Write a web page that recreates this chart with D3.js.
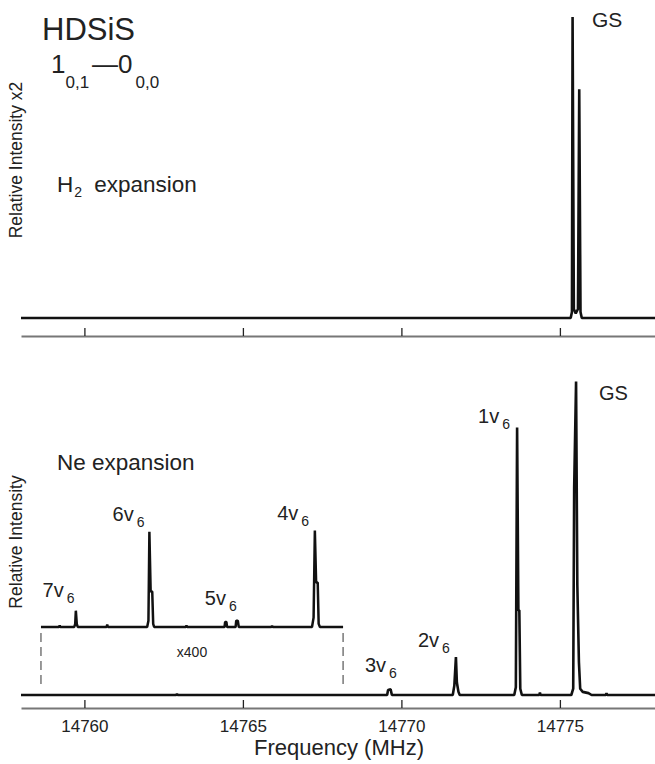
<!DOCTYPE html>
<html>
<head>
<meta charset="utf-8">
<script src="https://cdn.jsdelivr.net/npm/d3@7/dist/d3.min.js"></script>
<style>
 body{margin:0;background:#fff}
 svg{display:block}
 text{font-family:"Liberation Sans",Arial,Helvetica,sans-serif;fill:#222}
</style>
</head>
<body>
<svg></svg>
<script>
 // frequency axis
 let x_domain = [14758, 14778]
 let tick_values = [14760, 14765, 14770, 14775]

 // H2 expansion trace, [MHz, relative intensity]
 let h2_trace = [
      [14758.0, 0], [14775.34, 0], [14775.38, 0.02], [14775.40, 1.0], [14775.44, 0.03],
      [14775.50, 0.015], [14775.57, 0.03], [14775.61, 0.76], [14775.65, 0.02], [14775.69, 0],
      [14778.0, 0]
 ]

 // Ne expansion trace, [MHz, relative intensity]
 let ne_trace = [
      [14758.0, 0], [14762.9, 0], [14762.92, 0.004], [14762.94, 0],
      [14769.55, 0], [14769.58, 0.016], [14769.66, 0.018], [14769.70, 0],
      [14771.62, 0], [14771.67, 0.03], [14771.72, 0.121], [14771.75, 0.04], [14771.80, 0.01], [14771.84, 0],
      [14773.56, 0], [14773.61, 0.025], [14773.65, 0.853], [14773.69, 0.27], [14773.72, 0.27], [14773.75, 0.02], [14773.80, 0],
      [14774.35, 0], [14774.37, 0.008], [14774.39, 0],
      [14775.36, 0], [14775.42, 0.02], [14775.45, 0.661], [14775.51, 1.0], [14775.55, 0.35],
      [14775.60, 0.105], [14775.64, 0.02], [14775.72, 0.01], [14775.90, 0.006], [14776.0, 0],
      [14776.45, 0], [14776.47, 0.006], [14776.49, 0], [14778.0, 0]
 ]

 // x400 inset trace, [MHz, relative intensity x400]
 let inset_trace = [
      [14758.63, 0], [14759.2, 0], [14759.22, 0.005], [14759.24, 0],
      [14759.68, 0], [14759.71, 0.01], [14759.73, 0.052], [14759.76, 0.01], [14759.79, 0],
      [14760.70, 0], [14760.72, 0.008], [14760.74, 0],
      [14761.98, 0], [14762.02, 0.02], [14762.05, 0.304], [14762.09, 0.113], [14762.14, 0.113], [14762.17, 0.01], [14762.20, 0],
      [14763.20, 0], [14763.22, 0.005], [14763.24, 0],
      [14764.42, 0], [14764.44, 0.016], [14764.48, 0.016], [14764.50, 0],
      [14764.77, 0], [14764.79, 0.02], [14764.84, 0.02], [14764.87, 0],
      [14765.9, 0], [14765.92, 0.004], [14765.94, 0],
      [14767.18, 0], [14767.23, 0.03], [14767.27, 0.308], [14767.31, 0.142], [14767.36, 0.142], [14767.39, 0.01], [14767.43, 0],
      [14768.16, 0]
 ]
 let inset_bounds = [14758.63, 14768.16]

 // peak labels: [number, MHz, intensity] at the text's left baseline
 let ne_labels = [["GS", 14776.23, 0.941], ["1", 14772.42, 0.868], ["2", 14770.52, 0.153], ["3", 14768.85, 0.073]]
 let inset_labels = [["7", 14758.68, 0.096], ["6", 14760.89, 0.338], ["5", 14763.80, 0.070], ["4", 14766.08, 0.341]]
 let h2_labels = [["GS", 14776.01, 0.967]]

 width = 655
 height = 764

 var svg = d3.select("svg").attr("width", width).attr("height", height)

 var x = d3.scaleLinear().domain(x_domain).range([21, 655])
 var y_top = d3.scaleLinear().domain([0, 1]).range([318, 17])
 var y_bot = d3.scaleLinear().domain([0, 1]).range([695, 381.5])
 var y_ins = d3.scaleLinear().domain([0, 1]).range([627, 313.5])

 function trace(data, y){
      return d3.line().x(function(d){ return x(d[0]) }).y(function(d){ return y(d[1]) })(data)
 }

 function draw_axis(ypos, labels){
      var ax = d3.axisBottom(x).tickValues(tick_values).tickSize(-8).tickSizeOuter(0).tickPadding(12)
           .tickFormat(labels ? d3.format("d") : "")
      var g = svg.append("g").attr("transform", "translate(0," + ypos + ")").call(ax)
      g.select(".domain").attr("stroke", "#777").attr("stroke-width", 2)
      g.selectAll(".tick line").attr("stroke", "#222").attr("stroke-width", 1.3)
      g.selectAll(".tick text").attr("font-size", 17).attr("font-family", null).attr("fill", "#222")
 }

 function peak_label(lab, y, size){
      var t = svg.append("text").attr("x", x(lab[1])).attr("y", y(lab[2])).attr("font-size", size)
      if(lab[0] == "GS"){ t.text("GS"); return }
      t.append("tspan").text(lab[0] + "v")
      t.append("tspan").attr("font-size", 14).attr("dx", 3).attr("dy", 6).text("6")
 }

 // top panel (H2)
 draw_axis(336, false)
 svg.append("path").attr("d", trace(h2_trace, y_top))
      .attr("fill", "none").attr("stroke", "#111").attr("stroke-width", 2.6).attr("stroke-linejoin", "bevel")
 h2_labels.forEach(function(l){ peak_label(l, y_top, 21) })

 // bottom panel (Ne)
 draw_axis(708, true)
 svg.append("path").attr("d", trace(ne_trace, y_bot))
      .attr("fill", "none").attr("stroke", "#111").attr("stroke-width", 2.6).attr("stroke-linejoin", "bevel")
 svg.append("path").attr("d", trace(inset_trace, y_ins))
      .attr("fill", "none").attr("stroke", "#111").attr("stroke-width", 2.5).attr("stroke-linejoin", "bevel")
 ne_labels.forEach(function(l){ peak_label(l, y_bot, 20) })
 inset_labels.forEach(function(l){ peak_label(l, y_ins, 20) })

 // inset bounds
 svg.selectAll(".bound").data(inset_bounds).enter().append("line")
      .attr("x1", function(d){ return x(d) }).attr("x2", function(d){ return x(d) })
      .attr("y1", y_ins(0) + 6).attr("y2", y_bot(0) - 7)
      .attr("stroke", "#333").attr("stroke-width", 1).attr("stroke-dasharray", "9,5")
 svg.append("text").attr("x", x(d3.mean(inset_bounds))).attr("y", 657)
      .attr("text-anchor", "middle").attr("font-size", 14).text("x400")

 // titles and annotations
 svg.append("text").attr("x", 42).attr("y", 40).attr("font-size", 31).text("HDSiS")
 var tr = svg.append("text").attr("x", 51).attr("y", 73).attr("font-size", 26)
 tr.append("tspan").text("1")
 tr.append("tspan").attr("font-size", 17).attr("dy", 15).text("0,1")
 tr.append("tspan").attr("dx", 3).attr("dy", -15).text("\u2014")
 tr.append("tspan").text("0")
 tr.append("tspan").attr("font-size", 17).attr("dx", 3).attr("dy", 15).text("0,0")

 var h2 = svg.append("text").attr("x", 57).attr("y", 192).attr("font-size", 22.5)
 h2.append("tspan").text("H")
 h2.append("tspan").attr("font-size", 14).attr("dx", 1).attr("dy", 5).text("2")
 h2.append("tspan").attr("dx", 6).attr("dy", -5).text(" expansion")

 svg.append("text").attr("x", 57).attr("y", 470).attr("font-size", 22.5).text("Ne expansion")

 svg.append("text").attr("transform", "translate(22,160) rotate(-90)")
      .attr("text-anchor", "middle").attr("font-size", 17.5).text("Relative Intensity x2")
 svg.append("text").attr("transform", "translate(22,542) rotate(-90)")
      .attr("text-anchor", "middle").attr("font-size", 17.5).text("Relative Intensity")

 svg.append("text").attr("x", 339).attr("y", 755).attr("text-anchor", "middle")
      .attr("font-size", 22).text("Frequency (MHz)")
</script>
</body>
</html>
